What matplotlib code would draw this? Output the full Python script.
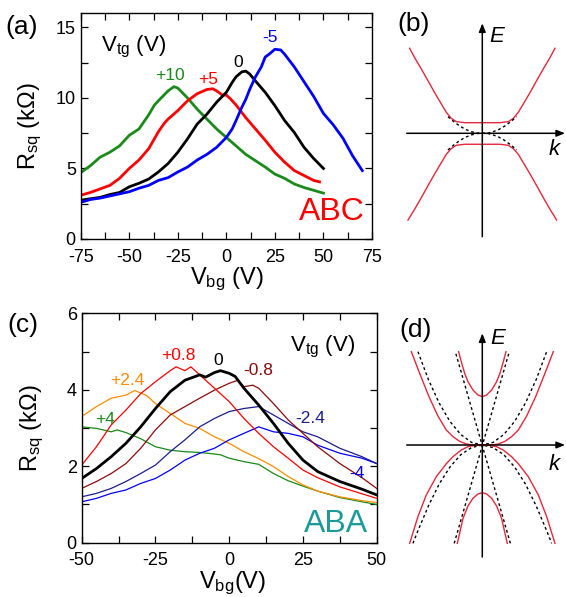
import matplotlib
matplotlib.use("Agg")
import matplotlib.pyplot as plt
from matplotlib.ticker import MultipleLocator

plt.rcParams['font.family'] = ['Liberation Sans', 'DejaVu Sans']
plt.rcParams['mathtext.fontset'] = 'custom'
plt.rcParams['mathtext.rm'] = 'Liberation Sans'
plt.rcParams['mathtext.it'] = 'Liberation Sans:italic'
plt.rcParams['axes.unicode_minus'] = False

# ---------- (a) ABC trilayer, R_sq vs V_bg ----------
a_green_v = [-75, -70, -65, -60, -55, -50, -45, -40, -37, -35, -30, -27, -25, -20, -15, -10, -5, 0, 5, 10, 15, 20, 25, 30, 35, 40, 45, 50]
a_green_r = [4.7, 5.2, 5.8, 6.15, 6.6, 7.35, 7.8, 8.8, 9.5, 9.8, 10.5, 10.8, 10.7, 10.0, 9.2, 8.5, 7.8, 7.2, 6.6, 6.0, 5.55, 5.1, 4.6, 4.3, 3.9, 3.65, 3.45, 3.25]

a_red_v = [-75, -70, -65, -60, -55, -50, -45, -40, -35, -32, -30, -25, -20, -15, -10, -7, -5, -2, 0, 2, 5, 10, 15, 20, 25, 30, 35, 40, 45, 48]
a_red_r = [3.1, 3.3, 3.55, 3.8, 4.3, 5.0, 5.6, 6.4, 7.6, 8.2, 8.5, 9.1, 9.8, 10.3, 10.6, 10.65, 10.5, 10.2, 10.2, 9.95, 9.5, 8.6, 7.8, 7.0, 6.15, 5.45, 4.85, 4.5, 4.15, 4.05]

a_black_v = [-75, -70, -65, -60, -55, -50, -45, -40, -35, -30, -25, -20, -15, -10, -5, 0, 3, 5, 8, 10, 12, 15, 20, 25, 30, 35, 40, 45, 50]
a_black_r = [2.75, 2.85, 2.95, 3.15, 3.3, 3.7, 3.95, 4.25, 4.75, 5.35, 6.15, 7.1, 8.15, 8.85, 9.7, 10.4, 11.1, 11.5, 11.85, 11.9, 11.7, 11.2, 10.4, 9.45, 8.4, 7.55, 6.5, 5.7, 5.0]

a_blue_v = [-75, -70, -65, -60, -55, -50, -45, -40, -35, -30, -25, -20, -15, -10, -5, 0, 3, 5, 8, 10, 12, 15, 18, 20, 22, 25, 28, 30, 35, 40, 45, 50, 55, 60, 65, 70]
a_blue_r = [2.6, 2.8, 2.9, 3.05, 3.2, 3.35, 3.6, 3.8, 4.15, 4.35, 4.75, 5.1, 5.6, 6.0, 6.5, 7.2, 7.8, 8.4, 9.35, 9.9, 10.6, 11.5, 12.2, 12.9, 13.1, 13.45, 13.4, 13.1, 12.2, 11.15, 10.1, 8.9, 8.1, 7.15, 5.9, 4.85]

# ---------- (c) ABA trilayer ----------
c_green_v = [-50, -45, -40, -38, -35, -30, -25, -20, -15, -10, -5, -3, 0, 5, 10, 15, 20, 25, 30, 37.5, 45, 50]
c_green_r = [3.03, 2.99, 2.9, 2.95, 2.88, 2.72, 2.51, 2.42, 2.38, 2.36, 2.32, 2.3, 2.21, 2.12, 2.05, 1.81, 1.62, 1.48, 1.35, 1.18, 1.07, 1.0]

c_orange_v = [-50, -45, -40, -35, -32, -28, -25, -20, -15, -10, -5, 0, 5, 10, 15, 20, 25, 30, 37.5, 45, 50]
c_orange_r = [3.30, 3.56, 3.78, 3.86, 3.98, 3.85, 3.64, 3.38, 3.12, 2.99, 2.77, 2.6, 2.38, 2.2, 1.99, 1.73, 1.51, 1.35, 1.2, 1.1, 1.05]

c_red_v = [-50, -45, -40, -35, -30, -25, -20, -18, -15, -13, -10, -5, 0, 5, 10, 15, 20, 25, 30, 37.5, 45, 50]
c_red_r = [2.03, 2.51, 3.08, 3.47, 3.9, 4.21, 4.5, 4.6, 4.5, 4.6, 4.39, 4.04, 3.69, 3.25, 2.86, 2.51, 2.21, 1.9, 1.7, 1.46, 1.28, 1.16]

c_black_v = [-50, -45, -40, -35, -30, -25, -20, -15, -10, -8, -5, -3, 0, 2, 5, 10, 15, 20, 25, 30, 37.5, 45, 50]
c_black_r = [1.68, 1.94, 2.25, 2.6, 3.03, 3.51, 3.95, 4.25, 4.39, 4.33, 4.45, 4.5, 4.43, 4.35, 4.04, 3.6, 3.12, 2.6, 2.16, 1.86, 1.6, 1.4, 1.25]

c_dred_v = [-50, -45, -40, -35, -30, -25, -20, -15, -10, -5, 0, 3, 5, 8, 10, 15, 20, 25, 30, 37.5, 45, 50]
c_dred_r = [1.42, 1.6, 1.81, 2.07, 2.47, 2.95, 3.34, 3.56, 3.78, 3.99, 4.17, 4.25, 4.08, 4.12, 4.04, 3.64, 3.21, 2.86, 2.51, 2.07, 1.7, 1.42]

c_navy_v = [-50, -45, -40, -35, -30, -25, -20, -15, -10, -5, 0, 5, 10, 15, 20, 25, 30, 37.5, 45, 50]
c_navy_r = [1.2, 1.29, 1.42, 1.6, 1.81, 2.03, 2.38, 2.69, 3.03, 3.25, 3.43, 3.51, 3.56, 3.34, 3.12, 2.9, 2.77, 2.47, 2.25, 2.07]

c_blue_v = [-50, -45, -40, -35, -30, -25, -20, -15, -10, -5, 0, 5, 10, 15, 20, 25, 30, 37.5, 45, 50]
c_blue_r = [1.07, 1.16, 1.29, 1.38, 1.55, 1.68, 1.9, 2.16, 2.34, 2.47, 2.69, 2.86, 3.03, 2.9, 2.86, 2.77, 2.55, 2.34, 2.21, 2.07]

# ---------- (b) ABC bands (right half, mirrored) ----------
b_up_k = [0, 0.245, 0.361, 0.431, 0.5, 0.569, 0.662, 0.755, 0.847, 0.94, 1.009]
b_up_e = [0.125, 0.125, 0.137, 0.176, 0.247, 0.345, 0.478, 0.62, 0.757, 0.89, 1.0]
b_lo_k = [0, 0.245, 0.361, 0.431, 0.5, 0.569, 0.662, 0.755, 0.847, 0.94, 1.032]
b_lo_e = [-0.129, -0.129, -0.141, -0.18, -0.247, -0.345, -0.478, -0.616, -0.757, -0.894, -1.02]
b_dash_k = [0, 0.08, 0.153, 0.23, 0.315, 0.4, 0.477]
b_dash_e = [0, 0.003, 0.02, 0.045, 0.086, 0.14, 0.196]

# ---------- (d) ABA bands (right half, mirrored) ----------
d_out_up_k = [0, 0.13, 0.222, 0.315, 0.407, 0.5, 0.616, 0.741, 0.87, 0.986]
d_out_up_e = [0, 0, 0.012, 0.043, 0.098, 0.176, 0.341, 0.569, 0.843, 1.098]
d_out_lo_k = [0, 0.106, 0.199, 0.292, 0.407, 0.5, 0.639, 0.778, 0.894, 1.009]
d_out_lo_e = [0, -0.004, -0.02, -0.059, -0.137, -0.22, -0.373, -0.588, -0.843, -1.157]
d_in_up_k = [0, 0.06, 0.13, 0.199, 0.245, 0.292, 0.329]
d_in_up_e = [0.569, 0.588, 0.647, 0.745, 0.843, 0.98, 1.098]
d_in_lo_k = [0, 0.06, 0.13, 0.199, 0.268, 0.347]
d_in_lo_e = [-0.561, -0.576, -0.627, -0.718, -0.863, -1.157]
d_lin_k = [-0.39, 0.375]
d_lin_e = [-1.157, 1.098]
d_par_up_k = [0, 0.15, 0.3, 0.45, 0.6, 0.75, 0.894]
d_par_up_e = [0, 0.031, 0.124, 0.278, 0.495, 0.773, 1.098]
d_par_lo_k = [0, 0.15, 0.3, 0.45, 0.6, 0.75, 0.9, 0.963]
d_par_lo_e = [0, -0.03, -0.115, -0.26, -0.46, -0.72, -1.02, -1.157]

BAND_RED = '#e4283c'
W, H = 566, 597
fig = plt.figure(figsize=(W / 100, H / 100), dpi=100)


def box(l, t, r, b):
    return [l / W, 1 - b / H, (r - l) / W, (b - t) / H]


def style(ax, xmaj, ymaj):
    ax.xaxis.set_major_locator(MultipleLocator(xmaj))
    ax.xaxis.set_minor_locator(MultipleLocator(xmaj / 2))
    ax.yaxis.set_major_locator(MultipleLocator(ymaj))
    ax.yaxis.set_minor_locator(MultipleLocator(ymaj / 2))
    ax.tick_params(which='both', direction='in', top=True, right=True,
                   length=5, width=0.9, labelsize=13)
    ax.tick_params(axis='x', pad=7)
    for s in ax.spines.values():
        s.set_linewidth(1.0)


def mirror(k, e):
    # even: E(-k) = E(k)
    return [-x for x in k[::-1]] + k[1:], e[::-1] + e[1:]


def mirror_odd(k, e):
    # odd: E(-k) = -E(k)
    return [-x for x in k[::-1]] + k[1:], [-y for y in e[::-1]] + e[1:]


# ======================
# (a)
# ======================
ax = fig.add_axes(box(80.7, 13.3, 372, 239))
ax.plot(a_green_v, a_green_r, color='#1a8a1a', lw=2.0)
ax.plot(a_red_v, a_red_r, color='#ff0000', lw=2.0)
ax.plot(a_black_v, a_black_r, color='black', lw=2.0)
ax.plot(a_blue_v, a_blue_r, color='#0000ff', lw=2.0)
ax.set_xlim(-75, 75)
ax.set_ylim(0, 16)
style(ax, 25, 5)
ax.set_xlabel('V$_{\\rm bg}$ (V)', fontsize=17)
ax.set_ylabel('R$_{\\rm sq}$ (k\u03a9)', fontsize=17)
ax.xaxis.set_label_coords(0.502, -0.12)
ax.yaxis.set_label_coords(-0.125, 0.5)
ax.text(-48, 13.6, 'V$_{\\rm tg}$ (V)', fontsize=16, ha='center', va='center')
ax.text(-29, 11.6, '+10', color='#1a8a1a', fontsize=12.5, ha='center', va='center')
ax.text(-9.3, 11.3, '+5', color='#ff0000', fontsize=12.5, ha='center', va='center')
ax.text(6, 12.5, '0', color='black', fontsize=12.5, ha='center', va='center')
ax.text(22.5, 14.3, '-5', color='#0000ff', fontsize=12.5, ha='center', va='center')
ax.text(54.3, 1.9, 'ABC', color='#ff0000', fontsize=23, ha='center', va='center')
fig.text(22 / W, 1 - 27 / H, '(a)', fontsize=19, ha='center', va='center')

# ======================
# (c)
# ======================
ax = fig.add_axes(box(81.7, 313.3, 376.7, 542.7))
ax.plot(c_green_v, c_green_r, color='#188a18', lw=0.9)
ax.plot(c_orange_v, c_orange_r, color='#ff8c00', lw=0.9)
ax.plot(c_blue_v, c_blue_r, color='#0000ff', lw=0.9)
ax.plot(c_navy_v, c_navy_r, color='#1c1c90', lw=0.9)
ax.plot(c_dred_v, c_dred_r, color='#8b0a0a', lw=0.9)
ax.plot(c_red_v, c_red_r, color='#ff0000', lw=0.9)
ax.plot(c_black_v, c_black_r, color='black', lw=2.0)
ax.set_xlim(-50, 50)
ax.set_ylim(0, 6)
style(ax, 25, 2)
ax.set_xlabel('V$_{\\rm bg}$(V)', fontsize=17)
ax.set_ylabel('R$_{\\rm sq}$ (k\u03a9)', fontsize=17)
ax.xaxis.set_label_coords(0.51, -0.118)
ax.yaxis.set_label_coords(-0.122, 0.5)
ax.text(31.5, 5.11, 'V$_{\\rm tg}$ (V)', fontsize=16, ha='center', va='center')
ax.text(-17.4, 4.9, '+0.8', color='#ff0000', fontsize=12.5, ha='center', va='center')
ax.text(-3.8, 4.77, '0', color='black', fontsize=12.5, ha='center', va='center')
ax.text(9.8, 4.51, '-0.8', color='#8b0a0a', fontsize=12.5, ha='center', va='center')
ax.text(-34.6, 4.25, '+2.4', color='#ff8c00', fontsize=12.5, ha='center', va='center')
ax.text(-42.1, 3.21, '+4', color='#188a18', fontsize=12.5, ha='center', va='center')
ax.text(27.4, 3.26, '-2.4', color='#1c1c90', fontsize=12.5, ha='center', va='center')
ax.text(43.3, 1.8, '-4', color='#0000ff', fontsize=12.5, ha='center', va='center')
ax.text(36.2, 0.49, 'ABA', color='#1a9a9a', fontsize=23, ha='center', va='center')
fig.text(23 / W, 1 - 325 / H, '(c)', fontsize=19, ha='center', va='center')


# ======================
# (b), (d) band schematics
# ======================
def band_axes(top, bottom, y_axis_px, vtop, vbot):
    bx = fig.add_axes(box(400, top, 566, bottom))
    bx.set_xlim(-82.3 / 72, 83.7 / 72)
    bx.set_ylim((y_axis_px - bottom) / 85, (y_axis_px - top) / 85)
    bx.axis('off')
    arrow = dict(arrowstyle='-|>,head_length=0.5,head_width=0.2', color='black', lw=1.1,
                 shrinkA=0, shrinkB=0)
    bx.annotate('', xy=(1.149, 0), xytext=(-1.05, 0), arrowprops=arrow)
    bx.annotate('', xy=(0, vtop), xytext=(0, vbot), arrowprops=arrow)
    return bx


bx = band_axes(20, 240, 133.3, 1.294, -1.216)
for k, e in [(b_up_k, b_up_e), (b_lo_k, b_lo_e)]:
    kk, ee = mirror(k, e)
    bx.plot(kk, ee, color=BAND_RED, lw=1.0)
kk, ee = mirror_odd(b_dash_k, b_dash_e)
bx.plot(kk, ee, color='black', lw=1.0, ls=(0, (2, 2)))
bx.plot(kk, [-x for x in ee], color='black', lw=1.0, ls=(0, (2, 2)))
bx.text(0.204, 1.139, 'E', fontsize=16, style='italic', ha='center', va='center')
bx.text(0.996, -0.19, 'k', fontsize=16, style='italic', ha='center', va='center')
fig.text(414 / W, 1 - 24.5 / H, '(b)', fontsize=19, ha='center', va='center')

dx = band_axes(330, 570, 445, 1.314, -1.318)
for k, e in [(d_par_up_k, d_par_up_e), (d_par_lo_k, d_par_lo_e)]:
    kk, ee = mirror(k, e)
    dx.plot(kk, ee, color='black', lw=1.0, ls=(0, (2, 2)))
dx.plot(d_lin_k, d_lin_e, color='black', lw=1.0, ls=(0, (2, 2)))
dx.plot([-x for x in d_lin_k], d_lin_e, color='black', lw=1.0, ls=(0, (2, 2)))
for k, e in [(d_out_up_k, d_out_up_e), (d_out_lo_k, d_out_lo_e),
             (d_in_up_k, d_in_up_e), (d_in_lo_k, d_in_lo_e)]:
    kk, ee = mirror(k, e)
    dx.plot(kk, ee, color=BAND_RED, lw=1.0)
dx.text(0.211, 1.253, 'E', fontsize=16, style='italic', ha='center', va='center')
dx.text(0.996, -0.235, 'k', fontsize=16, style='italic', ha='center', va='center')
fig.text(416 / W, 1 - 330 / H, '(d)', fontsize=19, ha='center', va='center')

fig.savefig('out.png', dpi=100)
